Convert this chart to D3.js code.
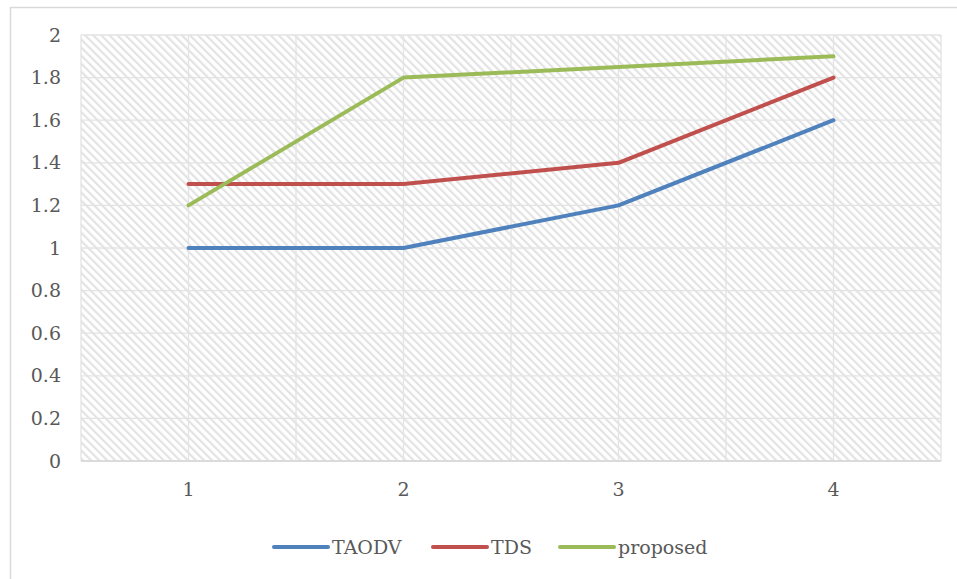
<!DOCTYPE html>
<html>
<head>
<meta charset="utf-8">
<script src="https://cdn.jsdelivr.net/npm/d3@7"></script>
<style>
  html, body { margin: 0; padding: 0; background: #fff; }
  svg { display: block; }
  text { font-family: "DejaVu Serif", "Liberation Serif", serif; fill: #595959; }
</style>
</head>
<body>
<svg id="chart" width="957" height="579"></svg>
<script>
// Data
const categories = [1, 2, 3, 4];
const taodv = [1, 1, 1.2, 1.6];
const tds = [1.3, 1.3, 1.4, 1.8];
const proposed = [1.2, 1.8, 1.85, 1.9];
const yTicks = [0, 0.2, 0.4, 0.6, 0.8, 1, 1.2, 1.4, 1.6, 1.8, 2];
const seriesNames = ["TAODV", "TDS", "proposed"];
const seriesColors = ["#4f81bd", "#c0504d", "#9bbb59"];

const series = [taodv, tds, proposed].map((values, i) => ({
  name: seriesNames[i], color: seriesColors[i], values
}));

const FONT = "19px";
const FAMILY = "'DejaVu Serif', serif";
const svg = d3.select("#chart");
const plot = { left: 81, right: 941, top: 35, bottom: 461 };

// Outer chart frame
svg.append("rect")
  .attr("x", 10.5).attr("y", 7.5)
  .attr("width", 960).attr("height", 600)
  .attr("fill", "none").attr("stroke", "#d9d9d9").attr("stroke-width", 1.5);

// Diagonal hatch fill for plot area
const defs = svg.append("defs");
const pat = defs.append("pattern")
  .attr("id", "hatch")
  .attr("patternUnits", "userSpaceOnUse")
  .attr("width", 5.7).attr("height", 5.7)
  .attr("patternTransform", "rotate(-45)");
pat.append("rect").attr("width", 5.7).attr("height", 5.7).attr("fill", "#fff");
pat.append("rect").attr("x", 0).attr("y", 0).attr("width", 2.2).attr("height", 5.7)
  .attr("fill", "#e3e3e3");
defs.append("filter").attr("id", "soft")
  .append("feGaussianBlur").attr("stdDeviation", 0.4);

const x = d3.scaleBand().domain(categories).range([plot.left, plot.right]);
const y = d3.scaleLinear().domain([0, 2]).range([plot.bottom, plot.top]);
const xc = d => x(d) + x.bandwidth() / 2;

svg.append("rect")
  .attr("x", plot.left).attr("y", plot.top)
  .attr("width", plot.right - plot.left).attr("height", plot.bottom - plot.top)
  .attr("fill", "url(#hatch)").attr("filter", "url(#soft)");

// Horizontal gridlines
svg.append("g").selectAll("line").data(yTicks).join("line")
  .attr("x1", plot.left).attr("x2", plot.right)
  .attr("y1", d => y(d)).attr("y2", d => y(d))
  .attr("stroke", "#e3e3e3").attr("stroke-width", 1.3);

// Vertical gridlines at band edges and band centres
const vLines = [];
categories.forEach(c => { vLines.push(x(c)); vLines.push(xc(c)); });
vLines.push(plot.right);
svg.append("g").selectAll("line").data(vLines).join("line")
  .attr("x1", d => d).attr("x2", d => d)
  .attr("y1", plot.top).attr("y2", plot.bottom)
  .attr("stroke", "#e3e3e3").attr("stroke-width", 1.3);

// Bottom axis line
svg.append("line")
  .attr("x1", plot.left).attr("x2", plot.right)
  .attr("y1", plot.bottom).attr("y2", plot.bottom)
  .attr("stroke", "#d6d6d6").attr("stroke-width", 1.5);

// Y axis labels
const yAxis = d3.axisLeft(y).tickValues(yTicks).tickSize(0).tickPadding(0)
  .tickFormat(d => String(d));
const gy = svg.append("g").attr("transform", `translate(${plot.left - 20},0)`).call(yAxis);
gy.select(".domain").remove();
gy.selectAll("text").style("font-size", FONT).attr("fill", "#595959")
  .style("font-family", FAMILY);

// X axis labels
const xAxis = d3.axisBottom(x).tickSize(0).tickPadding(0);
const gx = svg.append("g").attr("transform", `translate(0,${plot.bottom + 21})`).call(xAxis);
gx.select(".domain").remove();
gx.selectAll("text").style("font-size", FONT).attr("fill", "#595959")
  .style("font-family", FAMILY);

// Series lines
const line = d3.line().x((d, i) => xc(categories[i])).y(d => y(d));
svg.append("g").selectAll("path").data(series).join("path")
  .attr("d", d => line(d.values))
  .attr("fill", "none")
  .attr("stroke", d => d.color)
  .attr("stroke-width", 4)
  .attr("stroke-linecap", "round")
  .attr("stroke-linejoin", "round");

// Legend
const legendX = [274, 433, 560];
const legendY = 547;
const lg = svg.append("g").selectAll("g").data(series).join("g")
  .attr("transform", (d, i) => `translate(${legendX[i]},${legendY})`);
lg.append("line")
  .attr("x1", 0).attr("x2", 54).attr("y1", 0).attr("y2", 0)
  .attr("stroke", d => d.color).attr("stroke-width", 4).attr("stroke-linecap", "round");
lg.append("text")
  .attr("x", 58).attr("y", 7)
  .style("font-size", FONT).style("font-family", FAMILY)
  .text(d => d.name);
</script>
</body>
</html>
